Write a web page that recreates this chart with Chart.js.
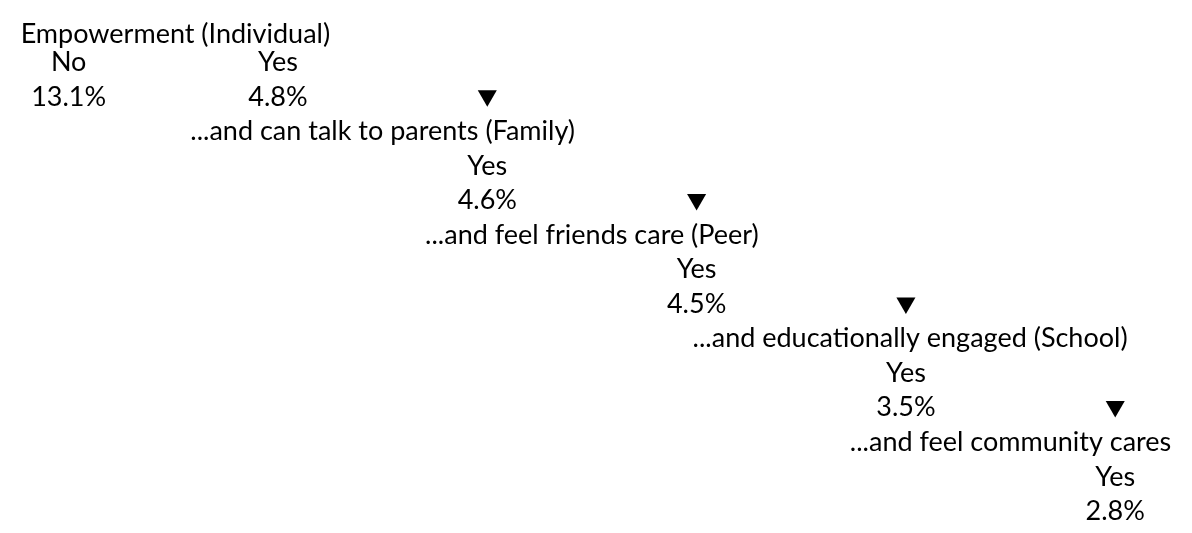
<!DOCTYPE html>
<html>
<head>
<meta charset="utf-8">
<script src="https://cdn.jsdelivr.net/npm/chart.js@4.4.1/dist/chart.umd.min.js"></script>
<style>
  html, body { margin: 0; padding: 0; background: #fff; }
  #wrap { width: 1192px; height: 533px; }
</style>
</head>
<body>
<div id="wrap"><canvas id="cascadeChart" width="1192" height="533"></canvas></div>
<script>
// estágios da cascata e taxas
const stages = [
    'Empowerment (Individual)',
    '...and can talk to parents (Family)',
    '...and feel friends care (Peer)',
    '...and educationally engaged (School)',
    '...and feel community cares'
];
const yesRates = [4.8, 4.6, 4.5, 3.5, 2.8];
const noRates = [13.1];
const answerLabels = ['No', 'Yes'];

// layout: coluna (nível) e linha de cada rótulo
const stageCol = [-0.49, 0.5, 1.5, 3.02, 3.5];
const stageRow = [0.18, 3, 6, 9, 12];
const noCol = -1;

const FONT = '27px Lato';

// pontos de cada tipo de texto
const stagePoints = stages.map((s, i) => ({ x: stageCol[i], y: stageRow[i], text: s }));
const answerPoints = [];
const ratePoints = [];
noRates.forEach(v => {
    answerPoints.push({ x: noCol, y: 1, text: answerLabels[0] });
    ratePoints.push({ x: noCol, y: 2, text: v.toFixed(1) + '%' });
});
yesRates.forEach((v, i) => {
    answerPoints.push({ x: i, y: 3 * i + 1, text: answerLabels[1] });
    ratePoints.push({ x: i, y: 3 * i + 2, text: v.toFixed(1) + '%' });
});
// setas para o próximo nível
const arrowPoints = yesRates.slice(1).map((v, i) => ({ x: i + 1, y: 3 * i + 2 }));

// plugin simples que escreve o texto de cada ponto
const textLabels = {
    id: 'textLabels',
    afterDatasetsDraw(chart) {
        const ctx = chart.ctx;
        ctx.save();
        ctx.font = FONT;
        ctx.fillStyle = '#000';
        ctx.textAlign = 'center';
        ctx.textBaseline = 'alphabetic';
        const cap = ctx.measureText('H').actualBoundingBoxAscent;
        chart.data.datasets.forEach((ds, di) => {
            if (!ds.isText) return;
            const meta = chart.getDatasetMeta(di);
            meta.data.forEach((pt, i) => {
                ctx.fillText(ds.data[i].text, pt.x, pt.y + cap / 2);
            });
        });
        ctx.restore();
    }
};

const ctx = document.getElementById('cascadeChart');
new Chart(ctx, {
    type: 'scatter',
    data: {
        datasets: [
            { label: 'stages', data: stagePoints, isText: true, pointRadius: 0 },
            { label: 'answers', data: answerPoints, isText: true, pointRadius: 0 },
            { label: 'rates', data: ratePoints, isText: true, pointRadius: 0 },
            {
                label: 'arrows',
                data: arrowPoints,
                pointStyle: 'triangle',
                rotation: 180,
                pointRadius: 11,
                pointBackgroundColor: '#000',
                pointBorderColor: '#000',
                pointBorderWidth: 0
            }
        ]
    },
    options: {
        responsive: false,
        animation: false,
        events: [],
        layout: { padding: 0 },
        plugins: {
            legend: { display: false },
            tooltip: { enabled: false }
        },
        scales: {
            x: { type: 'linear', display: false, min: -1.2755, max: 4.3142 },
            y: { type: 'linear', display: false, reverse: true, min: -0.458, max: 14.347 }
        }
    },
    plugins: [textLabels]
});
</script>
</body>
</html>
